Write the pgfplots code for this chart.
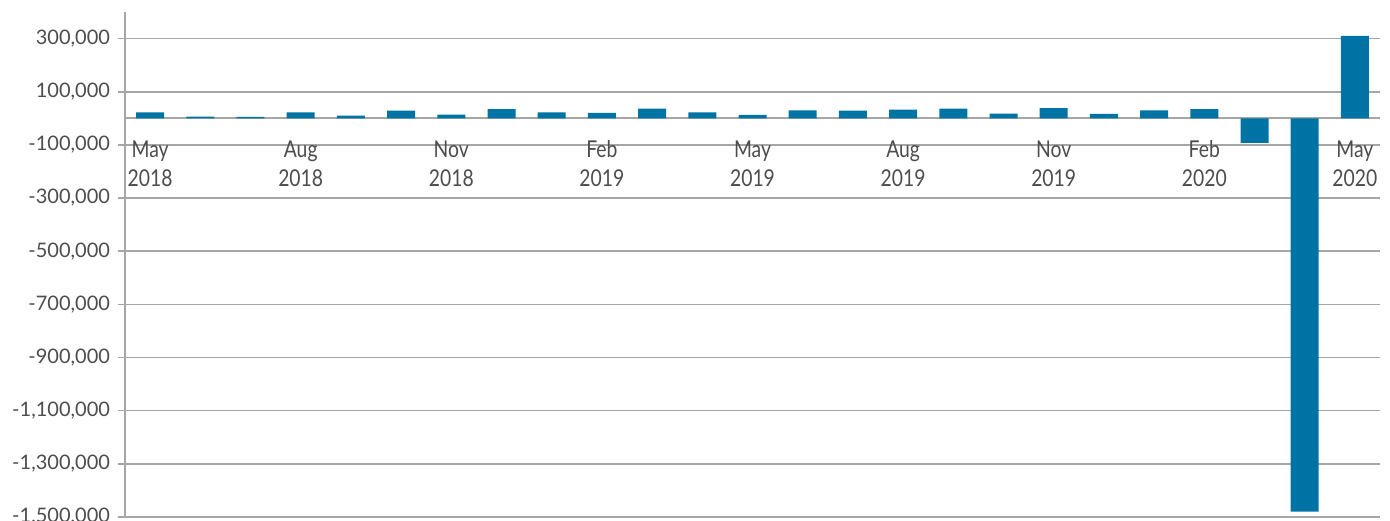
\documentclass[border=0pt]{standalone}
\usepackage{pgfplots}
\pgfplotsset{compat=1.18}
\usepackage{fontspec}
\setmainfont{Lato}
\usepackage{graphicx}
\definecolor{barblue}{RGB}{0,115,165}
\definecolor{gridgray}{RGB}{166,166,166}
\definecolor{txtgray}{RGB}{77,77,79}
\newcommand{\xl}[2]{\scalebox{1}[1.2]{\begin{tabular}{@{}c@{}}#1\\[1pt]#2\end{tabular}}}
\pgfplotstableread{
idx val
0 22500
1 6300
2 5000
3 22500
4 10000
5 28800
6 13800
7 35000
8 22500
9 20000
10 36300
11 22500
12 12500
13 30000
14 28800
15 32500
16 36300
17 17500
18 38800
19 16300
20 30000
21 34500
22 -92500
23 -1480000
24 310000
}\datatable
\begin{document}
\begin{tikzpicture}
\begin{axis}[
  name=ax, at={(0,0)}, anchor=south west, scale only axis,
  width=941.25pt, height=378.75pt,
  xmin=-0.5, xmax=24.5, ymin=-1500000, ymax=400000,
  axis y line=left, axis x line=middle,
  axis line style={-, draw=gridgray, line width=1.5pt},
  ytick={-1500000,-1300000,-1100000,-900000,-700000,-500000,-300000,-100000,100000,300000},
  ymajorgrids, grid style={gridgray, line width=1.2pt},
  yticklabel style={font=\fontsize{15}{17}\selectfont, text=txtgray, xshift=-2.5pt,
    /pgf/number format/.cd, fixed, 1000 sep={,}, assume math mode=true},
  scaled y ticks=false,
  ytick style={draw=gridgray, line width=1.2pt},
  major tick length=5.25pt,
  tick align=outside,
  xtick={0,3,6,9,12,15,18,21,24},
  xticklabels={\xl{May}{2018},\xl{Aug}{2018},\xl{Nov}{2018},\xl{Feb}{2019},\xl{May}{2019},\xl{Aug}{2019},\xl{Nov}{2019},\xl{Feb}{2020},\xl{May}{2020}},
  xticklabel style={font=\fontsize{14.5}{17}\selectfont, text=txtgray, anchor=north, yshift=-6.25pt},
  x tick style={draw=none},
  extra x ticks={2.5,5.5,8.5,11.5,14.5,17.5,20.5,23.5},
  extra x tick labels={},
  extra x tick style={grid=none, tick style={draw=gridgray, line width=1.2pt}, major tick length=6pt},
  ybar, bar width=21pt,
]
\addplot[fill=barblue, draw=none, bar shift=0pt] table[x=idx, y=val] {\datatable};
\end{axis}
\pgfresetboundingbox
\path (-93.75pt,-3pt) rectangle (948.75pt,387.75pt);
\end{tikzpicture}
\end{document}
